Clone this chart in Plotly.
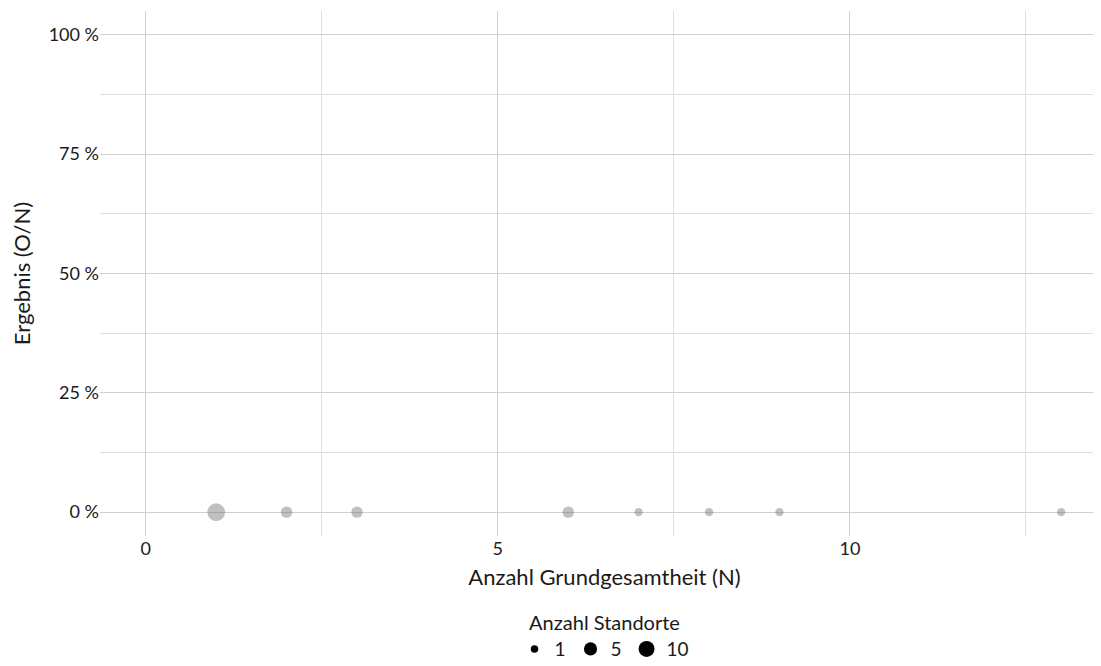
import plotly.graph_objects as go
import math

# Data
grundgesamtheit = [1, 2, 3, 6, 7, 8, 9, 13]
ergebnis_pct = [0, 0, 0, 0, 0, 0, 0, 0]
anzahl_standorte = [10, 2, 2, 2, 1, 1, 1, 1]
legend_sizes = [1, 5, 10]

FONT = "Lato"

def size_px(c, lo=1, hi=10, dmin=8.3, dmax=17.7):
    return dmin + (dmax - dmin) * math.sqrt((c - lo) / (hi - lo))

fig = go.Figure()
fig.add_trace(go.Scatter(
    x=grundgesamtheit, y=ergebnis_pct, mode="markers",
    marker=dict(size=[size_px(c) for c in anzahl_standorte], color="rgba(105,105,105,0.6)",
                line=dict(width=0)),
    showlegend=False, hoverinfo="x+y"))

for s in legend_sizes:
    fig.add_trace(go.Scatter(
        x=[None], y=[None], mode="markers", name=str(s),
        marker=dict(size=size_px(s) * 0.9, color="black", line=dict(width=0)),
        showlegend=True))

grid = "#d0d0d0"
minor_grid = "#dedede"
fig.update_layout(
    width=1101, height=666,
    paper_bgcolor="white", plot_bgcolor="white",
    margin=dict(l=92, r=0, t=3, b=138, autoexpand=False),
    font=dict(family=FONT, size=18, color="#1a1a1a"),
    xaxis=dict(range=[-0.65, 13.68], dtick=5, tick0=0, showgrid=True, automargin=False,
               gridcolor=grid, gridwidth=1, zeroline=False, showline=False,
               ticks="", tickfont=dict(size=18, color="#1a1a1a"),
               minor=dict(dtick=2.5, tick0=0, showgrid=True, gridcolor=minor_grid, gridwidth=1),
               title=dict(text="Anzahl Grundgesamtheit (N)", standoff=11,
                          font=dict(size=22, color="#1a1a1a"))),
    yaxis=dict(range=[-5, 105], dtick=25, tick0=0, ticksuffix=" %", showgrid=True, automargin=False,
               gridcolor=grid, gridwidth=1, zeroline=False, showline=False,
               ticks="", tickfont=dict(size=18, color="#1a1a1a"),
               minor=dict(dtick=12.5, tick0=0, showgrid=True, gridcolor=minor_grid, gridwidth=1),
               title=dict(text="Ergebnis (O/N)", standoff=16,
                          font=dict(size=22, color="#1a1a1a"))),
    legend=dict(orientation="h", x=0.5, xanchor="center", yref="container",
                y=0.105, yanchor="top", itemsizing="trace",
                title=dict(text="Anzahl Standorte", side="top center",
                           font=dict(size=20)),
                font=dict(size=19), bgcolor="rgba(0,0,0,0)"),
)

fig.write_html("out.html")
